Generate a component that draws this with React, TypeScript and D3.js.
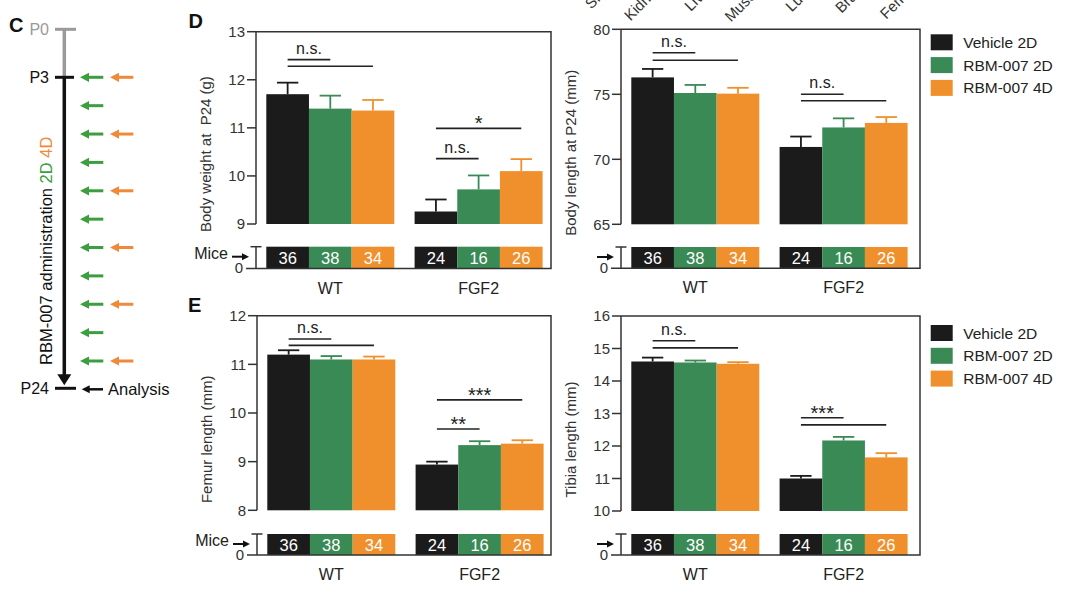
import React from "react";
import * as d3 from "d3";

const FONT = "'Liberation Sans', Arial, Helvetica, sans-serif";

const groups = ["WT", "FGF2"];
const seriesNames = ["Vehicle 2D", "RBM-007 2D", "RBM-007 4D"];
const seriesColors = ["#1b1b1b", "#3a8a56", "#f0902c"];
const miceCounts = [
  [36, 38, 34],
  [24, 16, 26],
];

// Body weight at P24 (g)
const weightMean = [
  [11.7, 11.4, 11.36],
  [9.26, 9.72, 10.1],
];
const weightErr = [
  [0.24, 0.27, 0.22],
  [0.25, 0.29, 0.25],
];
const weightTicks = [9, 10, 11, 12, 13];

// Body length at P24 (mm)
const lengthMean = [
  [76.3, 75.1, 75.05],
  [70.95, 72.45, 72.8],
];
const lengthErr = [
  [0.65, 0.62, 0.45],
  [0.8, 0.7, 0.45],
];
const lengthTicks = [65, 70, 75, 80];

// Femur length (mm)
const femurMean = [
  [11.2, 11.1, 11.1],
  [8.94, 9.34, 9.37],
];
const femurErr = [
  [0.09, 0.07, 0.06],
  [0.06, 0.08, 0.07],
];
const femurTicks = [8, 9, 10, 11, 12];

// Tibia length (mm)
const tibiaMean = [
  [14.6, 14.57, 14.53],
  [11.0, 12.17, 11.65],
];
const tibiaErr = [
  [0.12, 0.06, 0.05],
  [0.08, 0.11, 0.13],
];
const tibiaTicks = [10, 11, 12, 13, 14, 15, 16];

const sigWeight = [
  { group: 0, to: 1, value: 12.42, label: "n.s." },
  { group: 0, to: 2, value: 12.28, label: "" },
  { group: 1, to: 2, value: 10.99, label: "*" },
  { group: 1, to: 1, value: 10.36, label: "n.s." },
];
const sigLength = [
  { group: 0, to: 1, value: 78.2, label: "n.s." },
  { group: 0, to: 2, value: 77.62, label: "" },
  { group: 1, to: 1, value: 75.0, label: "n.s." },
  { group: 1, to: 2, value: 74.5, label: "" },
];
const sigFemur = [
  { group: 0, to: 1, value: 11.52, label: "n.s." },
  { group: 0, to: 2, value: 11.39, label: "" },
  { group: 1, to: 2, value: 10.27, label: "***" },
  { group: 1, to: 1, value: 9.67, label: "**" },
];
const sigTibia = [
  { group: 0, to: 1, value: 15.24, label: "n.s." },
  { group: 0, to: 2, value: 15.02, label: "" },
  { group: 1, to: 1, value: 12.87, label: "***" },
  { group: 1, to: 2, value: 12.65, label: "" },
];

// cut-off labels of the panel above
const topLabels = ["Skin", "Kidney", "Liver", "Muscle", "Lung", "Brain", "Femur"];

// timeline (panel C)
const timeDays = [0, 3, 24];
const timeLabels = ["P0", "P3", "P24"];
const dose2D = [3, 5, 7, 9, 11, 13, 15, 17, 19, 21, 23];
const dose4D = [3, 7, 11, 15, 19, 23];

type Layout = {
  axisX: number;
  top: number;
  right: number;
  plotBottom: number;
  miceTop: number;
  bottom: number;
};

function Arrow({ tip, tail, y, color, w = 3, head = 9, hw = 4.6 }: any) {
  const dir = tail > tip ? 1 : -1;
  const hb = tip + dir * head;
  return (
    <g>
      <line x1={tip + dir * (head - 1)} x2={tail} y1={y} y2={y} stroke={color} strokeWidth={w} />
      <path d={`M${tip},${y} L${hb},${y - hw} L${hb},${y + hw} Z`} fill={color} />
    </g>
  );
}

function Panel({
  L,
  domain,
  ticks,
  means,
  errs,
  sig,
  title,
  miceLabel,
}: {
  L: Layout;
  domain: [number, number];
  ticks: number[];
  means: number[][];
  errs: number[][];
  sig: { group: number; to: number; value: number; label: string }[];
  title: string;
  miceLabel: boolean;
}) {
  const y = d3.scaleLinear().domain(domain).range([L.plotBottom, L.top]);
  const bw = 128;
  const gap = 20.3;
  const gx = d3
    .scaleBand<string>()
    .domain(groups)
    .range([L.axisX + 10.3, L.axisX + 10.3 + 2 * bw + gap])
    .paddingInner(gap / (bw + gap))
    .paddingOuter(0);
  const sx = d3.scaleBand<string>().domain(seriesNames).range([0, gx.bandwidth()]).padding(0);
  const axisColor = "#333";
  const tickLen = 9;
  const center = (g: number, s: number) => (gx(groups[g]) as number) + (sx(seriesNames[s]) as number) + sx.bandwidth() / 2;

  return (
    <g fontFamily={FONT}>
      {/* bars */}
      {groups.map((g, gi) =>
        seriesNames.map((s, si) => {
          const x0 = (gx(g) as number) + (sx(s) as number);
          const m = means[gi][si];
          const e = errs[gi][si];
          const cx = x0 + sx.bandwidth() / 2;
          return (
            <g key={g + s}>
              <rect x={x0} y={y(m)} width={sx.bandwidth()} height={y(domain[0]) - y(m)} fill={seriesColors[si]} />
              <line x1={cx} x2={cx} y1={y(m)} y2={y(m + e)} stroke={seriesColors[si]} strokeWidth={1.8} />
              <line
                x1={cx - sx.bandwidth() / 4}
                x2={cx + sx.bandwidth() / 4}
                y1={y(m + e)}
                y2={y(m + e)}
                stroke={seriesColors[si]}
                strokeWidth={1.8}
              />
              {/* mice box */}
              <rect x={x0} y={L.miceTop} width={sx.bandwidth()} height={L.bottom - L.miceTop} fill={seriesColors[si]} />
              <text
                x={cx}
                y={(L.miceTop + L.bottom) / 2 + 6}
                fill="#fff"
                fontSize={16.5}
                textAnchor="middle"
              >
                {miceCounts[gi][si]}
              </text>
            </g>
          );
        })
      )}
      {/* frame */}
      <path
        d={`M${L.axisX},${L.top} H${L.right} V${L.bottom} H${L.axisX - 10}`}
        fill="none"
        stroke={axisColor}
        strokeWidth={1.5}
      />
      <line x1={L.axisX} x2={L.axisX} y1={L.top} y2={L.plotBottom} stroke={axisColor} strokeWidth={1.5} />
      {ticks.map((t) => (
        <g key={t}>
          <line x1={L.axisX - tickLen} x2={L.axisX} y1={y(t)} y2={y(t)} stroke={axisColor} strokeWidth={1.5} />
          <text x={L.axisX - 11} y={y(t) + 5.4} fontSize={15} textAnchor="end" fill="#333">
            {t}
          </text>
        </g>
      ))}
      {/* mice sub-axis */}
      <line x1={L.axisX} x2={L.axisX} y1={L.miceTop} y2={L.bottom} stroke={axisColor} strokeWidth={1.5} />
      <line x1={L.axisX - 5.5} x2={L.axisX + 5.5} y1={L.miceTop} y2={L.miceTop} stroke={axisColor} strokeWidth={1.5} />
      <text x={L.axisX - 17} y={L.bottom + 4.5} fontSize={15} textAnchor="middle" fill="#333">
        0
      </text>
      <Arrow tip={L.axisX - 7} tail={L.axisX - 24} y={L.miceTop + 10} color="#111" w={2} head={7} hw={3.5} />
      {miceLabel && (
        <text x={L.axisX - 28} y={L.miceTop + 12} fontSize={16} textAnchor="end" fill="#222">
          Mice
        </text>
      )}
      {/* group labels */}
      {groups.map((g) => (
        <text
          key={g}
          x={(gx(g) as number) + gx.bandwidth() / 2}
          y={L.bottom + 25}
          fontSize={16}
          textAnchor="middle"
          fill="#222"
        >
          {g}
        </text>
      ))}
      {/* significance */}
      {sig.map((s, i) => {
        const x1 = center(s.group, 0);
        const x2 = center(s.group, s.to);
        const yy = y(s.value);
        const isStar = s.label.startsWith("*");
        return (
          <g key={i}>
            <line x1={x1} x2={x2} y1={yy} y2={yy} stroke="#222" strokeWidth={1.6} />
            {s.label && (
              <text
                x={(x1 + x2) / 2}
                y={isStar ? yy + 2 : yy - 6}
                fontSize={isStar ? 20 : 16}
                textAnchor="middle"
                fill="#222"
              >
                {s.label}
              </text>
            )}
          </g>
        );
      })}
      {/* y title */}
      <text
        transform={`translate(${L.axisX - 45},${(L.top + L.bottom) / 2 + 4}) rotate(-90)`}
        fontSize={15}
        textAnchor="middle"
        fill="#333"
        style={{ whiteSpace: "pre" }}
      >
        {title}
      </text>
    </g>
  );
}

function Legend({ x, yTop }: { x: number; yTop: number }) {
  return (
    <g fontFamily={FONT}>
      {seriesNames.map((s, i) => (
        <g key={s}>
          <rect x={x} y={yTop + i * 22.8} width={22} height={16} fill={seriesColors[i]} />
          <text x={x + 32.5} y={yTop + i * 22.8 + 13.5} fontSize={15.5} fill="#222">
            {s}
          </text>
        </g>
      ))}
    </g>
  );
}

function Timeline() {
  const ty = d3.scaleLinear().domain([0, 3, 23, 24]).range([29.3, 77.3, 361, 388.3]);
  const lx = 64.3;
  const green = "#3c9e3f";
  const orange = "#ef8a3a";
  return (
    <g fontFamily={FONT}>
      <line x1={lx} x2={lx} y1={ty(0)} y2={ty(3)} stroke="#9a9a9a" strokeWidth={3.5} />
      <line x1={lx} x2={lx} y1={ty(3)} y2={ty(24) - 13} stroke="#111" strokeWidth={3.5} />
      <path d={`M${lx - 7},${ty(24) - 14} L${lx + 7},${ty(24) - 14} L${lx},${ty(24) - 3} Z`} fill="#111" />
      {timeDays.map((d, i) => (
        <g key={d}>
          <line
            x1={55}
            x2={i === 1 ? 74 : 76}
            y1={ty(d)}
            y2={ty(d)}
            stroke={i === 0 ? "#9a9a9a" : "#111"}
            strokeWidth={3}
          />
          <text x={49} y={ty(d) + 5.7} fontSize={16} textAnchor="end" fill={i === 0 ? "#9a9a9a" : "#111"}>
            {timeLabels[i]}
          </text>
        </g>
      ))}
      {dose2D.map((d) => (
        <Arrow key={"g" + d} tip={80} tail={103.3} y={ty(d)} color={green} />
      ))}
      {dose4D.map((d) => (
        <Arrow key={"o" + d} tip={110} tail={133.3} y={ty(d)} color={orange} />
      ))}
      <Arrow tip={81.7} tail={103} y={ty(24) + 1} color="#111" w={2.5} head={8} hw={4} />
      <text x={108} y={ty(24) + 6.7} fontSize={16.5} fill="#111">
        Analysis
      </text>
      <text transform={`translate(52,365) rotate(-90)`} fontSize={16.5} fill="#111">
        RBM-007 administration <tspan fill={green}>2D</tspan> <tspan fill={orange}>4D</tspan>
      </text>
    </g>
  );
}

export default function App() {
  const DL: Layout = { axisX: 256, top: 31.7, right: 551, plotBottom: 224, miceTop: 246.7, bottom: 268.5 };
  const DR: Layout = { axisX: 621, top: 29.3, right: 920, plotBottom: 224.3, miceTop: 247, bottom: 268.3 };
  const EL: Layout = { axisX: 257, top: 315.7, right: 551, plotBottom: 510.3, miceTop: 534, bottom: 555 };
  const ER: Layout = { axisX: 621, top: 316, right: 920, plotBottom: 511, miceTop: 534, bottom: 555 };
  const labelX = d3.scaleLinear().domain([0, topLabels.length - 1]).range([612, 917]);
  return (
    <svg
      width={1073}
      height={596}
      style={{ position: "absolute", left: 0, top: 0, background: "#fff" }}
      fontFamily={FONT}
    >
      <rect x={0} y={0} width={1073} height={596} fill="#fff" />
      {topLabels.map((t, i) => (
        <text
          key={t}
          transform={`translate(${labelX(i)},-11) rotate(-45)`}
          fontSize={15}
          textAnchor="end"
          fill="#333"
        >
          {t}
        </text>
      ))}
      <text x={9} y={31.7} fontSize={20} fontWeight="bold" fill="#111">
        C
      </text>
      <text x={188.5} y={28.3} fontSize={20} fontWeight="bold" fill="#111">
        D
      </text>
      <text x={188} y={311.7} fontSize={20} fontWeight="bold" fill="#111">
        E
      </text>
      <Timeline />
      <Panel
        L={DL}
        domain={[9, 13]}
        ticks={weightTicks}
        means={weightMean}
        errs={weightErr}
        sig={sigWeight}
        title={"Body weight at  P24 (g)"}
        miceLabel={true}
      />
      <Panel
        L={DR}
        domain={[65, 80]}
        ticks={lengthTicks}
        means={lengthMean}
        errs={lengthErr}
        sig={sigLength}
        title={"Body length at P24 (mm)"}
        miceLabel={false}
      />
      <Panel
        L={EL}
        domain={[8, 12]}
        ticks={femurTicks}
        means={femurMean}
        errs={femurErr}
        sig={sigFemur}
        title={"Femur length (mm)"}
        miceLabel={true}
      />
      <Panel
        L={ER}
        domain={[10, 16]}
        ticks={tibiaTicks}
        means={tibiaMean}
        errs={tibiaErr}
        sig={sigTibia}
        title={"Tibia length (mm)"}
        miceLabel={false}
      />
      <Legend x={930.7} yTop={34.3} />
      <Legend x={930.7} yTop={325} />
    </svg>
  );
}
